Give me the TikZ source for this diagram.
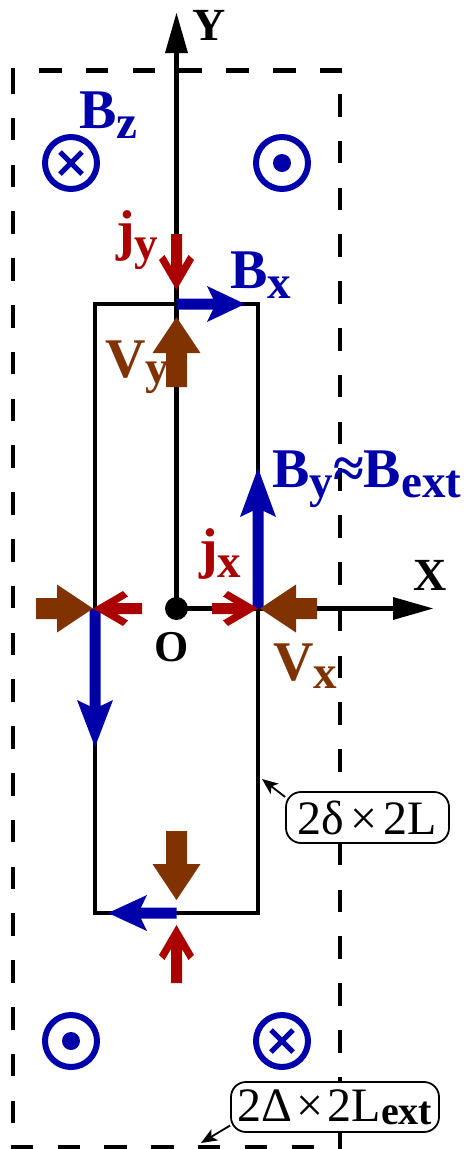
\documentclass[tikz,border=0pt]{standalone}
\usepackage{fontspec}
\setmainfont{Liberation Serif}
\usetikzlibrary{arrows.meta}
\definecolor{cblue}{RGB}{0,0,170}
\definecolor{cred}{RGB}{170,0,0}
\definecolor{cbrown}{RGB}{128,51,0}
\newcommand{\sbs}[2][47]{\raisebox{-10pt}{\fontsize{#1}{#1}\selectfont #2}}
% arrow shapes: #1 tip coordinate, #2 direction angle, #3 total length, #4 head length
\newcommand{\redarr}[3]{\fill[cred, shift={#1}, rotate=#2] (0,0) -- (-30,17.5) -- (-35,12) -- (-24,5.5) -- (-#3,5.5) -- (-#3,-5.5) -- (-24,-5.5) -- (-35,-12) -- (-30,-17.5) -- cycle;}
\newcommand{\brownarr}[3]{\fill[cbrown, shift={#1}, rotate=#2] (0,0) -- (-36,24) -- (-36,10.5) -- (-#3,10.5) -- (-#3,-10.5) -- (-36,-10.5) -- (-36,-24) -- cycle;}
\newcommand{\bluearr}[4]{\fill[cblue, shift={#1}, rotate=#2] (0,0) -- (-#4,18) -- ({-#4+6},5.5) -- (-#3,5.5) -- (-#3,-5.5) -- ({-#4+6},-5.5) -- (-#4,-18) -- cycle;}
\newcommand{\blackhead}[2]{\fill[black, shift={#1}, rotate=#2] (0,0) -- (-40,11.5) -- (-40,-11.5) -- cycle;}
\newcommand{\Bin}[1]{\draw[circ] (#1) circle[radius=26pt];
  \draw[cross] ([shift={(-11,-11)}]#1) -- ([shift={(11,11)}]#1);
  \draw[cross] ([shift={(-11,11)}]#1) -- ([shift={(11,-11)}]#1);}
\newcommand{\Bout}[1]{\draw[circ] (#1) circle[radius=26pt];
  \fill[cblue] (#1) circle[radius=9pt];}
\begin{document}
\begin{tikzpicture}[x=1pt,y=-1pt,
  circ/.style={cblue, line width=6pt},
  cross/.style={cblue, line width=5pt},
  dashline/.style={line width=4.2pt, dash pattern=on 22.5pt off 24.3pt},
  solidline/.style={line width=4.2pt},
  lab/.style={inner sep=0pt, anchor=base west, font=\bfseries\fontsize{56}{56}\selectfont},
  axlab/.style={inner sep=0pt, anchor=base west, font=\bfseries\fontsize{46}{46}\selectfont},
  dimbox/.style={draw, rounded corners=15pt, line width=1.8pt, fill=white, inner sep=0pt,
     font=\fontsize{48}{48}\selectfont},
  callout/.style={line width=1.8pt, -{Stealth[length=16pt,width=13pt,inset=4pt]}}]
\useasboundingbox (0,0) rectangle (466,1149);

% outer dashed rectangle
\coordinate (D3) at (340.3,1147);
\coordinate (D4) at (12.7,1147);
\draw[dashline] (12.7,71) -- (D4);
\draw[dashline] (342.3,70.5) -- (10.7,70.5);
\draw[dashline] (340.3,94) -- (D3);
\draw[dashline] (10.7,1147) -- (342.3,1147);

% inner rectangle
\coordinate (R1) at (95,304);
\coordinate (R2) at (258,913);
\draw[solidline] (R1) rectangle (R2);

% axes
\coordinate (O) at (176.5,608.5);
\coordinate (Yb) at (176.5,50);
\coordinate (Yt) at (176.5,13);
\coordinate (Xb) at (396,608.5);
\coordinate (Xt) at (433,608.5);
\draw[solidline] (O) -- (Yb);
\draw[solidline] (O) -- (Xb);
\blackhead{(Yt)}{90}
\blackhead{(Xt)}{0}
\fill (O) circle[radius=11.5pt];
\node[axlab] (lY) at (192,40) {Y};
\node[axlab] (lX) at (413,590) {X};
\node[axlab, font=\bfseries\fontsize{44}{44}\selectfont] (lO) at (154,661) {O};

% B_z circles
\coordinate (c1) at (71,163);
\coordinate (c2) at (282,163);
\coordinate (c3) at (71,1041);
\coordinate (c4) at (282,1041);
\Bin{c1}
\Bout{c2}
\Bout{c3}
\Bin{c4}
\node[lab, cblue] (lBz) at (79,128) {B\sbs{z}};

% top
\redarr{(176.5,290)}{270}{56}
\bluearr{(245,304)}{0}{68.5}{38}
\brownarr{(176.5,317)}{90}{70}
\node[lab, cred] (ljy) at (116,249) {j\sbs{y}};
\node[lab, cblue] (lBx) at (230,288) {B\sbs{x}};
\node[lab, cbrown] (lVy) at (105,377) {V\sbs{\raisebox{4pt}{y}}};

% right side
\bluearr{(258,468)}{90}{140.5}{49}
\redarr{(258,608.5)}{0}{46}
\brownarr{(260,608.5)}{180}{57}
\node[lab, cblue] (lBy) at (272,487) {B\sbs{y}≈B\sbs{ext}};
\node[lab, cred] (ljx) at (199,567) {j\sbs{x}};
\node[lab, cbrown] (lVx) at (273,680) {V\sbs{\raisebox{2pt}{x}}};

% left side
\bluearr{(95,747)}{270}{138.5}{47}
\redarr{(93,608.5)}{180}{49}
\brownarr{(93,608.5)}{0}{57}

% bottom
\brownarr{(176.5,900)}{270}{69}
\bluearr{(108,913)}{180}{68.5}{39}
\redarr{(176.5,925)}{90}{58}

% dimension boxes
\node[dimbox, minimum width=163pt, minimum height=51pt] (b1) at (367.5,817.5) {2δ\hspace{6pt}×\hspace{6pt}2L};
\node[dimbox, minimum width=208pt, minimum height=50pt] (b2) at (335,1107) {2Δ\hspace{4pt}×\hspace{4pt}2L\raisebox{-3pt}{\bfseries\fontsize{40}{40}\selectfont ext}};
\coordinate (t1) at (262,779);
\coordinate (t2) at (201,1143);
\draw[callout] (b1.166) -- (t1);
\draw[callout] (b2.190) -- (t2);
\end{tikzpicture}
\end{document}
